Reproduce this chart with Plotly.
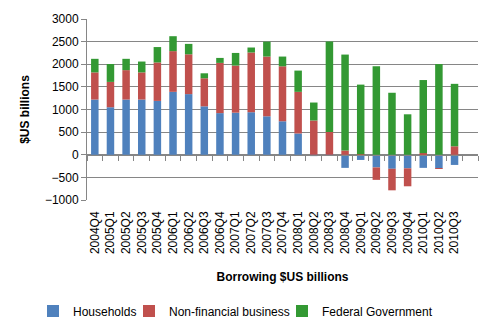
import plotly.graph_objects as go

quarters = ["2004Q4", "2005Q1", "2005Q2", "2005Q3", "2005Q4", "2006Q1", "2006Q2", "2006Q3",
            "2006Q4", "2007Q1", "2007Q2", "2007Q3", "2007Q4", "2008Q1", "2008Q2", "2008Q3",
            "2008Q4", "2009Q1", "2009Q2", "2009Q3", "2009Q4", "2010Q1", "2010Q2", "2010Q3"]
households = [1220, 1050, 1220, 1220, 1190, 1390, 1340, 1070, 920, 930, 940, 850,
              740, 470, -30, -20, -290, -115, -280, -310, -300, -290, -300, -225]
nonfinancial = [600, 560, 650, 600, 850, 900, 880, 620, 1110, 1040, 1320, 1320,
                1215, 920, 757, 505, 94, 10, -275, -476, -397, 36, -14, 187]
federal = [300, 395, 250, 240, 340, 330, 230, 110, 110, 280, 110, 330,
           215, 470, 397, 2000, 2120, 1540, 1954, 1370, 894, 1615, 2004, 1380]
y_ticks = [-1000, -500, 0, 500, 1000, 1500, 2000, 2500, 3000]

xs = list(range(len(quarters)))
font = "Liberation Sans"
W, H = 494, 332

series = [("Households", households, "#4F81BD", "legend", 33),
          ("Non-financial business", nonfinancial, "#C0504D", "legend2", 129),
          ("Federal Government", federal, "#339933", "legend3", 282)]

fig = go.Figure()
for name, vals, col, lg, _ in series:
    fig.add_trace(go.Bar(x=xs, y=vals, name=name, marker_color=col,
                         marker_line_width=0, width=0.48, legend=lg))

# invisible trace to activate the zero-line category axis
fig.add_trace(go.Scatter(x=[0], y=[0], xaxis="x2", mode="markers",
                         marker=dict(opacity=0), showlegend=False, hoverinfo="skip"))

legend_common = dict(orientation="h", xref="container", yref="container",
                     xanchor="left", yanchor="middle", y=21 / H,
                     font=dict(size=12, color="#000000"), itemwidth=30,
                     bgcolor="rgba(0,0,0,0)")
legends = {}
for name, vals, col, lg, px in series:
    legends[lg] = dict(legend_common, x=px / W)

fig.update_layout(
    width=W, height=H,
    margin=dict(l=87, r=16, t=16, b=132),
    barmode="relative",
    plot_bgcolor="white", paper_bgcolor="white",
    font=dict(family=font, size=11, color="#000000"),
    showlegend=True,
    **legends,
    xaxis=dict(range=[-0.5, 24.5], tickmode="array", tickvals=xs, ticktext=quarters,
               tickangle=-90, showgrid=False, zeroline=False, showline=False,
               ticks="", tickfont=dict(size=12), ticklabelstandoff=8,
               title=dict(text="<b>Borrowing $US billions</b>", font=dict(size=12), standoff=19)),
    xaxis2=dict(range=[-0.5, 24.5], overlaying="x", anchor="free", position=0.25,
                tickmode="array", tickvals=[i - 0.5 for i in range(26)],
                showticklabels=False, ticks="outside", ticklen=5, tickcolor="#868686",
                showline=True, linecolor="#868686", linewidth=1, showgrid=False,
                zeroline=False),
    yaxis=dict(range=[-1000, 3000], tickvals=y_ticks, showgrid=True,
               gridcolor="#868686", gridwidth=1, zeroline=False,
               showline=True, linecolor="#868686", ticks="outside", ticklen=5,
               tickcolor="#868686", tickfont=dict(size=12),
               title=dict(text="<b>$US billions</b>", font=dict(size=12), standoff=12)),
)

fig.write_html("out.html")
